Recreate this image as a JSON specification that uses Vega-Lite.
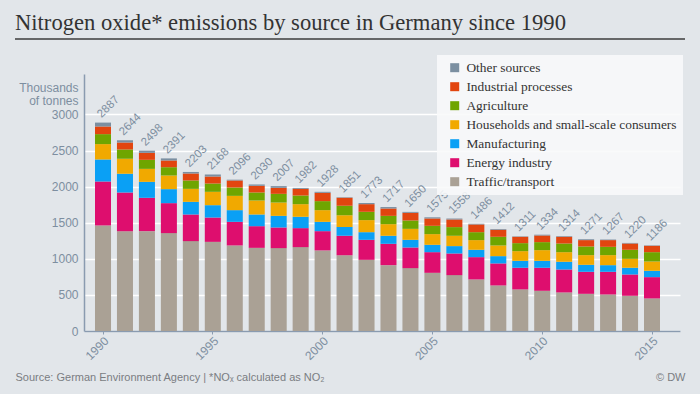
{
  "$schema": "https://vega.github.io/schema/vega-lite/v6.json",
  "width": 596,
  "height": 257,
  "autosize": {"type": "none"},
  "padding": {"left": 84, "top": 74, "right": 20, "bottom": 63},
  "background": "#e2e6ea",
  "config": {
    "view": {"stroke": null},
    "axis": {"labelFont": "Liberation Sans", "titleFont": "Liberation Sans", "labelColor": "#7d8ea0", "titleColor": "#7d8ea0", "domainColor": "#8a9bb0", "tickColor": "#8a9bb0"}
  },
  "title": {
    "text": "Nitrogen oxide* emissions by source in Germany since 1990",
    "anchor": "start",
    "frame": "group",
    "dx": -69,
    "offset": -14,
    "baseline": "alphabetic",
    "font": "Liberation Serif",
    "fontSize": 22.6,
    "fontWeight": "normal",
    "color": "#333333"
  },
  "datasets": {
    "srcorder": [
      {"source": "Traffic/transport", "rank": 1},
      {"source": "Energy industry", "rank": 2},
      {"source": "Manufacturing", "rank": 3},
      {"source": "Households and small-scale consumers", "rank": 4},
      {"source": "Agriculture", "rank": 5},
      {"source": "Industrial processes", "rank": 6},
      {"source": "Other sources", "rank": 7}
    ]
  },
  "data": {
    "values": [
      {"year": 1990, "source": "Traffic/transport", "value": 1462}, {"year": 1990, "source": "Energy industry", "value": 609}, {"year": 1990, "source": "Manufacturing", "value": 305}, {"year": 1990, "source": "Households and small-scale consumers", "value": 213}, {"year": 1990, "source": "Agriculture", "value": 138}, {"year": 1990, "source": "Industrial processes", "value": 106}, {"year": 1990, "source": "Other sources", "value": 54},
      {"year": 1991, "source": "Traffic/transport", "value": 1383}, {"year": 1991, "source": "Energy industry", "value": 536}, {"year": 1991, "source": "Manufacturing", "value": 258}, {"year": 1991, "source": "Households and small-scale consumers", "value": 208}, {"year": 1991, "source": "Agriculture", "value": 129}, {"year": 1991, "source": "Industrial processes", "value": 97}, {"year": 1991, "source": "Other sources", "value": 33},
      {"year": 1992, "source": "Traffic/transport", "value": 1383}, {"year": 1992, "source": "Energy industry", "value": 462}, {"year": 1992, "source": "Manufacturing", "value": 221}, {"year": 1992, "source": "Households and small-scale consumers", "value": 180}, {"year": 1992, "source": "Agriculture", "value": 125}, {"year": 1992, "source": "Industrial processes", "value": 97}, {"year": 1992, "source": "Other sources", "value": 30},
      {"year": 1993, "source": "Traffic/transport", "value": 1356}, {"year": 1993, "source": "Energy industry", "value": 415}, {"year": 1993, "source": "Manufacturing", "value": 194}, {"year": 1993, "source": "Households and small-scale consumers", "value": 189}, {"year": 1993, "source": "Agriculture", "value": 115}, {"year": 1993, "source": "Industrial processes", "value": 93}, {"year": 1993, "source": "Other sources", "value": 29},
      {"year": 1994, "source": "Traffic/transport", "value": 1245}, {"year": 1994, "source": "Energy industry", "value": 369}, {"year": 1994, "source": "Manufacturing", "value": 175}, {"year": 1994, "source": "Households and small-scale consumers", "value": 180}, {"year": 1994, "source": "Agriculture", "value": 116}, {"year": 1994, "source": "Industrial processes", "value": 97}, {"year": 1994, "source": "Other sources", "value": 21},
      {"year": 1995, "source": "Traffic/transport", "value": 1235}, {"year": 1995, "source": "Energy industry", "value": 337}, {"year": 1995, "source": "Manufacturing", "value": 171}, {"year": 1995, "source": "Households and small-scale consumers", "value": 185}, {"year": 1995, "source": "Agriculture", "value": 115}, {"year": 1995, "source": "Industrial processes", "value": 97}, {"year": 1995, "source": "Other sources", "value": 28},
      {"year": 1996, "source": "Traffic/transport", "value": 1185}, {"year": 1996, "source": "Energy industry", "value": 327}, {"year": 1996, "source": "Manufacturing", "value": 162}, {"year": 1996, "source": "Households and small-scale consumers", "value": 198}, {"year": 1996, "source": "Agriculture", "value": 116}, {"year": 1996, "source": "Industrial processes", "value": 97}, {"year": 1996, "source": "Other sources", "value": 11},
      {"year": 1997, "source": "Traffic/transport", "value": 1152}, {"year": 1997, "source": "Energy industry", "value": 300}, {"year": 1997, "source": "Manufacturing", "value": 162}, {"year": 1997, "source": "Households and small-scale consumers", "value": 194}, {"year": 1997, "source": "Agriculture", "value": 111}, {"year": 1997, "source": "Industrial processes", "value": 92}, {"year": 1997, "source": "Other sources", "value": 19},
      {"year": 1998, "source": "Traffic/transport", "value": 1148}, {"year": 1998, "source": "Energy industry", "value": 286}, {"year": 1998, "source": "Manufacturing", "value": 161}, {"year": 1998, "source": "Households and small-scale consumers", "value": 185}, {"year": 1998, "source": "Agriculture", "value": 120}, {"year": 1998, "source": "Industrial processes", "value": 83}, {"year": 1998, "source": "Other sources", "value": 24},
      {"year": 1999, "source": "Traffic/transport", "value": 1162}, {"year": 1999, "source": "Energy industry", "value": 263}, {"year": 1999, "source": "Manufacturing", "value": 157}, {"year": 1999, "source": "Households and small-scale consumers", "value": 175}, {"year": 1999, "source": "Agriculture", "value": 120}, {"year": 1999, "source": "Industrial processes", "value": 92}, {"year": 1999, "source": "Other sources", "value": 13},
      {"year": 2000, "source": "Traffic/transport", "value": 1116}, {"year": 2000, "source": "Energy industry", "value": 267}, {"year": 2000, "source": "Manufacturing", "value": 129}, {"year": 2000, "source": "Households and small-scale consumers", "value": 162}, {"year": 2000, "source": "Agriculture", "value": 125}, {"year": 2000, "source": "Industrial processes", "value": 115}, {"year": 2000, "source": "Other sources", "value": 14},
      {"year": 2001, "source": "Traffic/transport", "value": 1051}, {"year": 2001, "source": "Energy industry", "value": 268}, {"year": 2001, "source": "Manufacturing", "value": 120}, {"year": 2001, "source": "Households and small-scale consumers", "value": 166}, {"year": 2001, "source": "Agriculture", "value": 129}, {"year": 2001, "source": "Industrial processes", "value": 111}, {"year": 2001, "source": "Other sources", "value": 6},
      {"year": 2002, "source": "Traffic/transport", "value": 986}, {"year": 2002, "source": "Energy industry", "value": 277}, {"year": 2002, "source": "Manufacturing", "value": 106}, {"year": 2002, "source": "Households and small-scale consumers", "value": 167}, {"year": 2002, "source": "Agriculture", "value": 115}, {"year": 2002, "source": "Industrial processes", "value": 106}, {"year": 2002, "source": "Other sources", "value": 16},
      {"year": 2003, "source": "Traffic/transport", "value": 912}, {"year": 2003, "source": "Energy industry", "value": 296}, {"year": 2003, "source": "Manufacturing", "value": 111}, {"year": 2003, "source": "Households and small-scale consumers", "value": 161}, {"year": 2003, "source": "Agriculture", "value": 115}, {"year": 2003, "source": "Industrial processes", "value": 102}, {"year": 2003, "source": "Other sources", "value": 20},
      {"year": 2004, "source": "Traffic/transport", "value": 871}, {"year": 2004, "source": "Energy industry", "value": 286}, {"year": 2004, "source": "Manufacturing", "value": 106}, {"year": 2004, "source": "Households and small-scale consumers", "value": 152}, {"year": 2004, "source": "Agriculture", "value": 116}, {"year": 2004, "source": "Industrial processes", "value": 106}, {"year": 2004, "source": "Other sources", "value": 13},
      {"year": 2005, "source": "Traffic/transport", "value": 806}, {"year": 2005, "source": "Energy industry", "value": 286}, {"year": 2005, "source": "Manufacturing", "value": 102}, {"year": 2005, "source": "Households and small-scale consumers", "value": 148}, {"year": 2005, "source": "Agriculture", "value": 115}, {"year": 2005, "source": "Industrial processes", "value": 102}, {"year": 2005, "source": "Other sources", "value": 16},
      {"year": 2006, "source": "Traffic/transport", "value": 774}, {"year": 2006, "source": "Energy industry", "value": 300}, {"year": 2006, "source": "Manufacturing", "value": 102}, {"year": 2006, "source": "Households and small-scale consumers", "value": 143}, {"year": 2006, "source": "Agriculture", "value": 120}, {"year": 2006, "source": "Industrial processes", "value": 106}, {"year": 2006, "source": "Other sources", "value": 13},
      {"year": 2007, "source": "Traffic/transport", "value": 714}, {"year": 2007, "source": "Energy industry", "value": 309}, {"year": 2007, "source": "Manufacturing", "value": 102}, {"year": 2007, "source": "Households and small-scale consumers", "value": 134}, {"year": 2007, "source": "Agriculture", "value": 110}, {"year": 2007, "source": "Industrial processes", "value": 107}, {"year": 2007, "source": "Other sources", "value": 10},
      {"year": 2008, "source": "Traffic/transport", "value": 631}, {"year": 2008, "source": "Energy industry", "value": 305}, {"year": 2008, "source": "Manufacturing", "value": 101}, {"year": 2008, "source": "Households and small-scale consumers", "value": 148}, {"year": 2008, "source": "Agriculture", "value": 120}, {"year": 2008, "source": "Industrial processes", "value": 97}, {"year": 2008, "source": "Other sources", "value": 10},
      {"year": 2009, "source": "Traffic/transport", "value": 576}, {"year": 2009, "source": "Energy industry", "value": 300}, {"year": 2009, "source": "Manufacturing", "value": 96}, {"year": 2009, "source": "Households and small-scale consumers", "value": 134}, {"year": 2009, "source": "Agriculture", "value": 111}, {"year": 2009, "source": "Industrial processes", "value": 88}, {"year": 2009, "source": "Other sources", "value": 6},
      {"year": 2010, "source": "Traffic/transport", "value": 557}, {"year": 2010, "source": "Energy industry", "value": 319}, {"year": 2010, "source": "Manufacturing", "value": 96}, {"year": 2010, "source": "Households and small-scale consumers", "value": 148}, {"year": 2010, "source": "Agriculture", "value": 111}, {"year": 2010, "source": "Industrial processes", "value": 92}, {"year": 2010, "source": "Other sources", "value": 11},
      {"year": 2011, "source": "Traffic/transport", "value": 534}, {"year": 2011, "source": "Energy industry", "value": 318}, {"year": 2011, "source": "Manufacturing", "value": 107}, {"year": 2011, "source": "Households and small-scale consumers", "value": 133}, {"year": 2011, "source": "Agriculture", "value": 120}, {"year": 2011, "source": "Industrial processes", "value": 93}, {"year": 2011, "source": "Other sources", "value": 9},
      {"year": 2012, "source": "Traffic/transport", "value": 515}, {"year": 2012, "source": "Energy industry", "value": 305}, {"year": 2012, "source": "Manufacturing", "value": 97}, {"year": 2012, "source": "Households and small-scale consumers", "value": 134}, {"year": 2012, "source": "Agriculture", "value": 120}, {"year": 2012, "source": "Industrial processes", "value": 88}, {"year": 2012, "source": "Other sources", "value": 12},
      {"year": 2013, "source": "Traffic/transport", "value": 506}, {"year": 2013, "source": "Energy industry", "value": 314}, {"year": 2013, "source": "Manufacturing", "value": 92}, {"year": 2013, "source": "Households and small-scale consumers", "value": 139}, {"year": 2013, "source": "Agriculture", "value": 115}, {"year": 2013, "source": "Industrial processes", "value": 93}, {"year": 2013, "source": "Other sources", "value": 8},
      {"year": 2014, "source": "Traffic/transport", "value": 488}, {"year": 2014, "source": "Energy industry", "value": 295}, {"year": 2014, "source": "Manufacturing", "value": 93}, {"year": 2014, "source": "Households and small-scale consumers", "value": 124}, {"year": 2014, "source": "Agriculture", "value": 125}, {"year": 2014, "source": "Industrial processes", "value": 87}, {"year": 2014, "source": "Other sources", "value": 8},
      {"year": 2015, "source": "Traffic/transport", "value": 451}, {"year": 2015, "source": "Energy industry", "value": 295}, {"year": 2015, "source": "Manufacturing", "value": 88}, {"year": 2015, "source": "Households and small-scale consumers", "value": 129}, {"year": 2015, "source": "Agriculture", "value": 129}, {"year": 2015, "source": "Industrial processes", "value": 88}, {"year": 2015, "source": "Other sources", "value": 6}
    ]
  },
  "layer": [
    {
      "transform": [{"lookup": "source", "from": {"data": {"name": "srcorder"}, "key": "source", "fields": ["rank"]}}],
      "mark": {"type": "bar"},
      "encoding": {
        "x": {
          "field": "year", "type": "ordinal",
          "scale": {"paddingInner": 0.27, "paddingOuter": 0.705, "align": 0.355},
          "axis": {
            "values": [1990, 1995, 2000, 2005, 2010, 2015],
            "labelAngle": -45, "labelAlign": "right", "labelBaseline": "top",
            "labelFontSize": 12, "labelPadding": 1, "tickSize": 3, "domainWidth": 1.5,
            "grid": false,
            "title": "Source: German Environment Agency | *NOₓ calculated as NO₂",
            "titleFont": "Liberation Sans", "titleFontWeight": "normal", "titleFontSize": 11, "titleColor": "#7a7d82",
            "titleX": -69, "titleY": 49, "titleAlign": "left", "titleBaseline": "alphabetic", "titleAnchor": "start"
          }
        },
        "y": {
          "field": "value", "type": "quantitative",
          "scale": {"domain": [0, 3560], "nice": false},
          "axis": {
            "values": [0, 500, 1000, 1500, 2000, 2500, 3000], "format": "d",
            "labelFontSize": 12, "labelPadding": 6, "ticks": false, "domainWidth": 1.5,
            "grid": true, "gridColor": "#ffffff", "gridWidth": 1.5,
            "title": ["Thousands", "of tonnes"], "titleAngle": 0, "titleFontSize": 12, "titleFontWeight": "normal",
            "titleAlign": "right", "titleBaseline": "alphabetic", "titleX": -6, "titleY": 17, "titleLineHeight": 13
          }
        },
        "color": {
          "field": "source", "type": "nominal",
          "scale": {
            "domain": ["Other sources", "Industrial processes", "Agriculture", "Households and small-scale consumers", "Manufacturing", "Energy industry", "Traffic/transport"],
            "range": ["#7b8fa1", "#e2450f", "#6fa500", "#f1a900", "#0aa0f5", "#de0e6e", "#aaa195"]
          },
          "legend": {
            "title": null, "orient": "none", "legendX": 353, "legendY": -19,
            "symbolType": "square", "symbolSize": 81, "symbolStrokeWidth": 0,
            "labelFont": "Liberation Serif", "labelFontSize": 13.4, "labelColor": "#333333", "labelLimit": 320,
            "rowPadding": 4, "padding": 6, "fillColor": "rgba(248,249,251,0.88)", "symbolOffset": 5, "labelOffset": 5
          }
        },
        "order": {"field": "rank", "type": "quantitative", "sort": "ascending"}
      }
    },
    {
      "transform": [{"aggregate": [{"op": "sum", "field": "value", "as": "total"}], "groupby": ["year"]}],
      "mark": {"type": "text", "angle": -45, "align": "left", "baseline": "alphabetic", "dx": 2, "dy": -4, "font": "Liberation Sans", "fontSize": 11.5, "color": "#7d8ea0"},
      "encoding": {
        "x": {
          "field": "year", "type": "ordinal",
          "axis": {
            "orient": "bottom", "labels": false, "ticks": false, "domain": false, "grid": false,
            "title": "© DW",
            "titleFont": "Liberation Sans", "titleFontWeight": "normal", "titleFontSize": 11, "titleColor": "#7a7d82",
            "titleX": 601, "titleY": 49, "titleAlign": "right", "titleBaseline": "alphabetic", "titleAnchor": "end"
          }
        },
        "y": {"field": "total", "type": "quantitative"},
        "text": {"field": "total", "type": "quantitative"}
      }
    },
    {
      "data": {"values": [{}]},
      "mark": {"type": "rule", "color": "#3d3d3d", "strokeWidth": 1.5},
      "encoding": {"x": {"value": -69}, "x2": {"value": 601}, "y": {"value": -35}}
    }
  ],
  "resolve": {"axis": {"x": "independent"}}
}
